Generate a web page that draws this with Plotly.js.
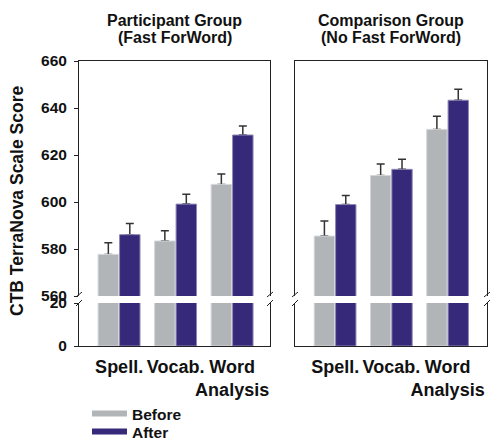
<!DOCTYPE html>
<html>
<head>
<meta charset="utf-8">
<script src="https://cdn.plot.ly/plotly-3.0.1.min.js"></script>
<style>html,body{margin:0;padding:0;background:#fff;}#chart{width:491px;height:439px;}</style>
</head>
<body>
<div id="chart"></div>
<script>
// ---- data ----
var categories = ['Spell.', 'Vocab.', 'Word<br>Analysis'];
var seriesNames = ['Before', 'After'];
var panelTitles = [['Participant Group', '(Fast ForWord)'], ['Comparison Group', '(No Fast ForWord)']];
var yTitle = 'CTB TerraNova Scale Score';

var partBefore = [577.7, 583.4, 607.5];
var partBeforeErr = [5.0, 4.4, 4.4];
var partAfter = [586.1, 599.1, 628.5];
var partAfterErr = [4.8, 4.2, 3.8];

var compBefore = [585.5, 611.3, 630.9];
var compBeforeErr = [6.4, 4.9, 5.6];
var compAfter = [598.9, 613.9, 643.3];
var compAfterErr = [3.9, 4.3, 4.7];

var upperTicks = [560, 580, 600, 620, 640, 660];
var lowerTicks = [0, 20];

// ---- styling ----
var FONT = 'Liberation Sans, Arial, Helvetica, sans-serif';
var GRAY = '#b1b5b8', GRAY_LINE = '#d4d6d8';
var PURPLE = '#36297a', PURPLE_LINE = '#8f89b5';
var ERR = '#333333';
var AX = '#222222';

var W = 491, H = 439;
var mL = 79, mR = 4, mT = 61, mB = 93;
var pw = W - mL - mR, ph = H - mT - mB;
function px2x(p) { return (p - mL) / pw; }
function py2y(p) { return (H - mB - p) / ph; }

var xDomL = [0, px2x(270)], xDomR = [px2x(295), 1];
var yDomLow = [0, py2y(303)], yDomUp = [py2y(296), 1];

var offB = -0.372, offA = 0.008, bw = 0.362;

var panels = [
  {xl: 'x', yl: 'y', xu: 'x3', yu: 'y2', before: partBefore, bErr: partBeforeErr, after: partAfter, aErr: partAfterErr},
  {xl: 'x2', yl: 'y3', xu: 'x4', yu: 'y4', before: compBefore, bErr: compBeforeErr, after: compAfter, aErr: compAfterErr}
];

var data = [];
panels.forEach(function (p) {
  // error-bar carriers (transparent, drawn first so the visible bars cover the lower cap)
  [[p.before, p.bErr, offB], [p.after, p.aErr, offA]].forEach(function (s) {
    data.push({
      type: 'bar', x: categories, y: s[0], xaxis: p.xu, yaxis: p.yu,
      offset: s[2], width: bw, showlegend: false, hoverinfo: 'skip',
      marker: {color: 'rgba(0,0,0,0)', line: {width: 0}},
      error_y: {type: 'data', symmetric: false, array: s[1], arrayminus: s[1].map(function () { return 0; }),
        color: ERR, thickness: 1.5, width: 4}
    });
  });
  // visible bars, upper and lower segments
  [[p.xu, p.yu], [p.xl, p.yl]].forEach(function (ax) {
    data.push({
      type: 'bar', x: categories, y: p.before, xaxis: ax[0], yaxis: ax[1],
      offset: offB, width: bw, showlegend: false, name: seriesNames[0],
      marker: {color: GRAY, line: {color: GRAY_LINE, width: 1}}
    });
    data.push({
      type: 'bar', x: categories, y: p.after, xaxis: ax[0], yaxis: ax[1],
      offset: offA, width: bw, showlegend: false, name: seriesNames[1],
      marker: {color: PURPLE, line: {color: PURPLE_LINE, width: 1}}
    });
  });
});
// legend entries (one legend per item so their spacing can match)
data.push({type: 'scatter', mode: 'lines', x: [null], y: [null], name: seriesNames[0], legend: 'legend',
  line: {color: GRAY, width: 6}, xaxis: 'x', yaxis: 'y'});
data.push({type: 'scatter', mode: 'lines', x: [null], y: [null], name: seriesNames[1], legend: 'legend2',
  line: {color: PURPLE, width: 6}, xaxis: 'x', yaxis: 'y'});

var tickFont = {family: FONT, size: 15.5, color: '#111', weight: 'bold'};
var xTickFont = {family: FONT, size: 18, color: '#111', weight: 'bold'};
var legFont = {family: FONT, size: 15.5, color: '#111', weight: 'bold'};

function xLower(dom, range) {
  return {domain: dom, range: range, type: 'category', showline: true, linecolor: AX, linewidth: 1,
    ticks: '', tickangle: 0, tickfont: xTickFont, ticklabelstandoff: 4, showgrid: false, zeroline: false,
    automargin: false, fixedrange: true};
}
function xUpper(dom, range, m) {
  return {domain: dom, range: range, type: 'category', matches: m, side: 'top', showline: true, linecolor: AX,
    linewidth: 1, ticks: '', showticklabels: false, showgrid: false, zeroline: false};
}
function yAx(dom, range, vals, anchor, labels) {
  return {domain: dom, range: range, anchor: anchor, showline: true, mirror: true, linecolor: AX, linewidth: 1,
    tickvals: vals, ticktext: vals.map(String), showticklabels: labels, ticks: labels ? 'outside' : '',
    ticklen: 4, tickcolor: AX, tickfont: tickFont, ticklabelstandoff: 4, showgrid: false, zeroline: false,
    automargin: false};
}
function legendAt(centerY) {
  return {x: px2x(87), xanchor: 'left', y: py2y(centerY), yanchor: 'middle', orientation: 'v',
    font: legFont, bgcolor: 'rgba(0,0,0,0)', itemwidth: 35};
}

var rangeL = [-0.71, 2.67], rangeR = [-0.714, 2.70];

var layout = {
  width: W, height: H,
  margin: {l: mL, r: mR, t: mT, b: mB, pad: 0, autoexpand: false},
  paper_bgcolor: '#fff', plot_bgcolor: 'rgba(0,0,0,0)',
  barmode: 'overlay',
  font: {family: FONT, color: '#111'},
  showlegend: true,
  legend: legendAt(414),
  legend2: legendAt(432),
  xaxis: xLower(xDomL, rangeL),
  xaxis2: xLower(xDomR, rangeR),
  xaxis3: Object.assign(xUpper(xDomL, rangeL, 'x'), {anchor: 'y2'}),
  xaxis4: Object.assign(xUpper(xDomR, rangeR, 'x2'), {anchor: 'y4'}),
  yaxis: yAx(yDomLow, [0, 20], lowerTicks, 'x', true),
  yaxis2: yAx(yDomUp, [560, 660], upperTicks, 'x3', true),
  yaxis3: yAx(yDomLow, [0, 20], lowerTicks, 'x2', false),
  yaxis4: yAx(yDomUp, [560, 660], upperTicks, 'x4', false),
  annotations: [],
  shapes: []
};
layout.xaxis.anchor = 'y';
layout.xaxis2.anchor = 'y3';

// panel titles
[[xDomL, panelTitles[0]], [xDomR, panelTitles[1]]].forEach(function (t) {
  var cx = (t[0][0] + t[0][1]) / 2;
  [[t[1][0], 20], [t[1][1], 38]].forEach(function (ln) {
    layout.annotations.push({text: ln[0], xref: 'paper', yref: 'paper', x: cx, y: py2y(ln[1]),
      xanchor: 'center', yanchor: 'middle', showarrow: false,
      font: {family: FONT, size: 16, color: '#111', weight: 'bold'}});
  });
});
// y title
layout.annotations.push({text: yTitle, xref: 'paper', yref: 'paper', x: px2x(17), y: py2y(201),
  xanchor: 'center', yanchor: 'middle', textangle: -90, showarrow: false,
  font: {family: FONT, size: 17.5, color: '#111', weight: 'bold'}});

// axis-break marks
[xDomL[0], xDomL[1], xDomR[0], xDomR[1]].forEach(function (xp) {
  [[297, 292], [306, 300]].forEach(function (yy) {
    layout.shapes.push({type: 'line', xref: 'paper', yref: 'paper', xsizemode: 'pixel', xanchor: xp,
      x0: -3, x1: 3, y0: py2y(yy[0]), y1: py2y(yy[1]), line: {color: AX, width: 1}});
  });
});

Plotly.newPlot('chart', data, layout, {displayModeBar: false, staticPlot: true});
</script>
</body>
</html>
